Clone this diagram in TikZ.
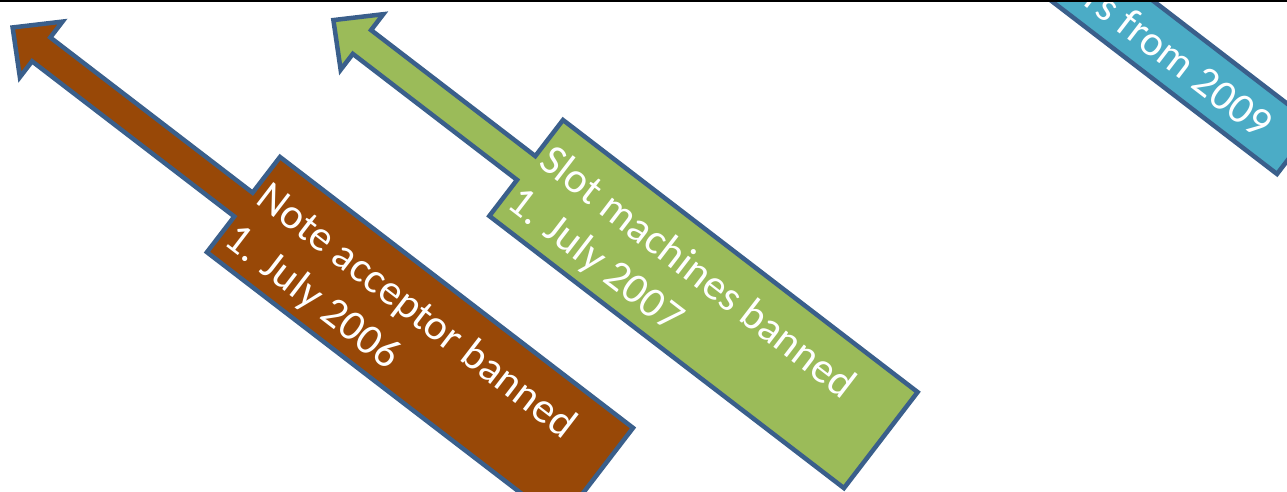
\documentclass[tikz,border=0pt]{standalone}
\usepackage{fontspec}
\setmainfont{Carlito}
\definecolor{borderBlue}{HTML}{3A5F8B}
\definecolor{brownFill}{HTML}{984807}
\definecolor{greenFill}{HTML}{9BBB59}
\definecolor{tealFill}{HTML}{4BACC6}
\newcommand{\calloutArrow}[4]{%%
  %% #1 box length, #2 box width, #3 from box to tip, #4 style.
  \pgfmathsetmacro{\halfW}{#2/2}
  \pgfmathsetmacro{\neckX}{\headLength-#3}
  \pgfmathsetmacro{\tipX}{-#3}
  \draw[#4] (0,0) -- (#1,0) -- (#1,-#2) -- (0,-#2)
    -- (0,-\halfW-\shaftHalf) -- (\neckX,-\halfW-\shaftHalf)
    -- (\neckX,-\halfW-\headHalf) -- (\tipX,-\halfW)
    -- (\neckX,-\halfW+\headHalf) -- (\neckX,-\halfW+\shaftHalf)
    -- (0,-\halfW+\shaftHalf) -- cycle;
}

\begin{document}
\begin{tikzpicture}[%%
  x=1pt,y=1pt,%%
  calloutStyle/.style={draw=borderBlue,line width=4.5pt,line join=miter},%%
  labelStyle/.style={text=white,font=\fontsize{43}{52}\selectfont,align=left,%%
    inner sep=0pt,anchor=base west,transform shape}%%
]
%%
%%
\pgfmathsetmacro{\slant}{-37.5}
\pgfmathsetmacro{\shaftHalf}{15}
\pgfmathsetmacro{\headHalf}{35}
\pgfmathsetmacro{\headLength}{36}
%%
\coordinate (noteCorner) at (280,334);
\coordinate (slotCorner) at (563,371);
\coordinate (limitCorner) at (1277,317);
%%
\useasboundingbox (0,0) rectangle (1287,491);
\clip (0,0) rectangle (1287,491);
%%
%% Note acceptor (base is the last line).
\begin{scope}[shift={(noteCorner)},rotate=\slant]
  \calloutArrow{445}{120}{291}{calloutStyle,fill=brownFill}
  \node[labelStyle] (noteText) at (7,-104) {Note acceptor banned\\1. July 2006};
\end{scope}
%% Slot machines.
\begin{scope}[shift={(slotCorner)},rotate=\slant]
  \calloutArrow{447}{121}{243}{calloutStyle,fill=greenFill}
  \node[labelStyle] (slotText) at (7,-104) {Slot machines banned\\1. July 2007};
\end{scope}
%% Third callout, only its end is in view.
\begin{scope}[shift={(limitCorner)},rotate=\slant,shift={(-445,62)}]
  \calloutArrow{445}{62}{240}{calloutStyle,fill=tealFill}
  \node[labelStyle,anchor=base east] (limitText) at (410,-46) {rs from 2009};
\end{scope}
%%
%% Top rule.
\fill[black] (0,488.5) rectangle (1287,491);
\end{tikzpicture}
\end{document}
